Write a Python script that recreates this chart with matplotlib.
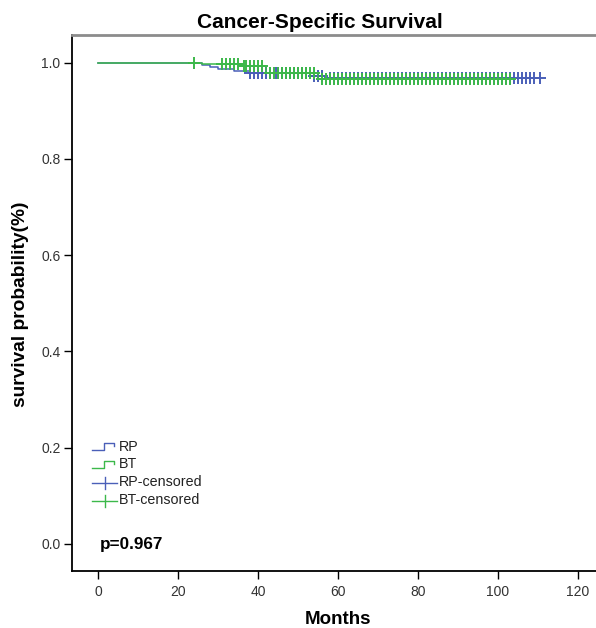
import matplotlib
matplotlib.use("Agg")
import matplotlib.pyplot as plt
from matplotlib.lines import Line2D

plt.rcParams['font.family'] = ['Liberation Sans', 'DejaVu Sans']

# ---- data ----
rp_event_times = [0, 26, 28, 30, 34, 38, 53, 57]
rp_event_surv  = [1.0, 0.996, 0.992, 0.988, 0.983, 0.978, 0.972, 0.969]
rp_end_time = 110.5
rp_censored = [38, 39, 40, 41, 42, 43, 44.5, 45, 46, 47, 48, 49, 50, 51, 52,
               54, 55, 56, 58, 59, 60, 61, 62, 63, 64, 65, 66, 67, 68, 69,
               70, 71, 72, 73, 74, 75, 76, 77, 78, 79, 80, 81, 82, 83, 84,
               85, 86, 87, 88, 89, 90, 91, 92, 93, 94, 95, 96, 97, 98, 99,
               100, 101, 102, 103, 104, 105, 106, 107, 108, 109, 110.5]

bt_event_times = [0, 26, 36, 42, 55]
bt_event_surv  = [1.0, 0.997, 0.994, 0.979, 0.966]
bt_end_time = 103
bt_censored = [24, 31, 32, 33, 34, 35, 36.5, 37, 38, 39, 40, 41, 43, 44, 45,
               46, 47, 48, 49, 50, 51, 52, 53, 54, 56, 57, 58, 59, 60, 61,
               62, 63, 64, 65, 66, 67, 68, 69, 70, 71, 72, 73, 74, 75, 76,
               77, 78, 79, 80, 81, 82, 83, 84, 85, 86, 87, 88, 89, 90, 91,
               92, 93, 94, 95, 96, 97, 98, 99, 100, 101, 102, 103]

legend_labels = ['RP', 'BT', 'RP-censored', 'BT-censored']
p_text = 'p=0.967'
xticks = [0, 20, 40, 60, 80, 100, 120]
yticks = [0.0, 0.2, 0.4, 0.6, 0.8, 1.0]

blue = '#4a5fb8'
green = '#3cb84a'


def surv_at(t, times, surv):
    s = surv[0]
    for ti, si in zip(times, surv):
        if t >= ti:
            s = si
    return s


fig = plt.figure(figsize=(5.96, 6.28), dpi=100)
ax = fig.add_axes([71.7 / 596, 1 - 570.7 / 628, 1 - 71.7 / 596, (570.7 - 35.3) / 628])

for times, surv, end, cens, col in [
        (rp_event_times, rp_event_surv, rp_end_time, rp_censored, blue),
        (bt_event_times, bt_event_surv, bt_end_time, bt_censored, green)]:
    xs = list(times) + [end]
    ys = list(surv) + [surv[-1]]
    ax.step(xs, ys, where='post', color=col, lw=1.1)
    cy = [surv_at(t, times, surv) for t in cens]
    ax.plot(cens, cy, linestyle='none', marker='+', markersize=8.5,
            markeredgewidth=1.4, color=col)

ax.set_xlim(-6.66, 124.6)
ax.set_ylim(-0.0555, 1.057)
ax.set_xticks(xticks)
ax.set_xticklabels([str(v) for v in xticks])
ax.set_yticks(yticks)
ax.set_yticklabels([f'{v:.1f}' for v in yticks])
ax.tick_params(axis='both', direction='out', length=6, width=1.0,
               labelsize=10, labelcolor='#333333', pad=2)
ax.tick_params(axis='x', pad=4)

ax.spines['right'].set_visible(False)
ax.spines['top'].set_color('#8c8c8c')
ax.spines['top'].set_linewidth(2.0)
ax.spines['left'].set_linewidth(1.3)
ax.spines['bottom'].set_linewidth(1.3)

fig.text(320 / 596, 1 - 22 / 628, 'Cancer-Specific Survival', ha='center',
         va='center', fontsize=15, fontweight='bold')
fig.text(338 / 596, 1 - 619 / 628, 'Months', ha='center', va='center',
         fontsize=13.5, fontweight='bold')
fig.text(21 / 596, 1 - 304 / 628, 'survival probability(%)', ha='center',
         va='center', rotation=90, fontsize=13.8, fontweight='bold')

# ---- legend (drawn in figure pixel coordinates) ----
def px(x, y):
    return x / 596, 1 - y / 628

rows_y = [447, 464.5, 482.5, 500.5]
for i, (lab, yrow) in enumerate(zip(legend_labels, rows_y)):
    col = blue if i % 2 == 0 else green
    if i < 2:
        xs = [92, 104, 104, 114, 114]
        ys = [yrow + 3, yrow + 3, yrow - 4, yrow - 4, yrow - 1]
    else:
        xs = [92, 117]
        ys = [yrow, yrow]
    pts = [px(x, y) for x, y in zip(xs, ys)]
    fig.add_artist(Line2D([p[0] for p in pts], [p[1] for p in pts],
                          color=col, lw=1.0, transform=fig.transFigure))
    if i >= 2:
        a = px(104.5, yrow - 6)
        b = px(104.5, yrow + 6)
        fig.add_artist(Line2D([a[0], b[0]], [a[1], b[1]], color=col, lw=1.0,
                              transform=fig.transFigure))
    tx, ty = px(118.5, yrow)
    fig.text(tx, ty, lab, ha='left', va='center', fontsize=10.3, color='#222222')

tx, ty = px(100, 544)
fig.text(tx, ty, p_text, ha='left', va='center', fontsize=12.3, fontweight='bold')

fig.savefig('out.png', dpi=100)
